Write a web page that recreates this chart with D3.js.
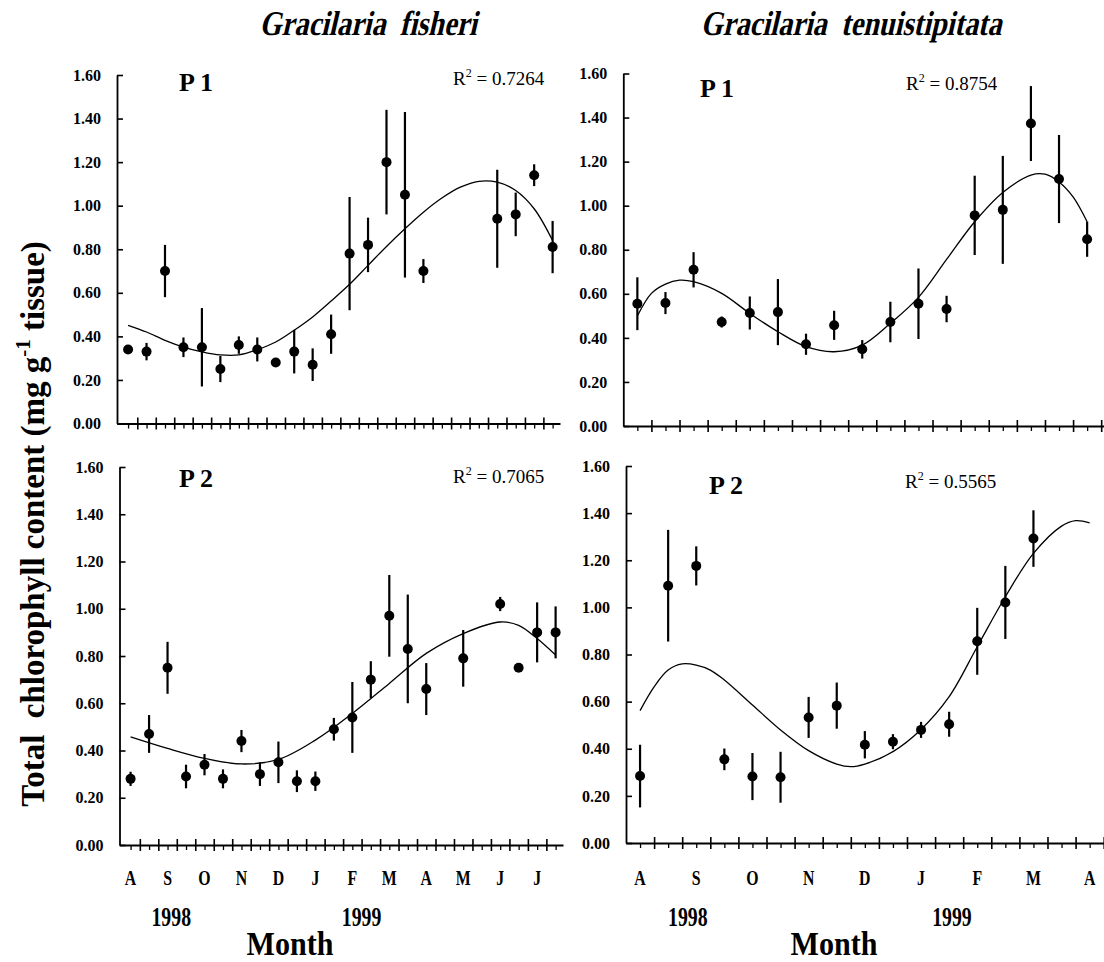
<!DOCTYPE html>
<html>
<head>
<meta charset="utf-8">
<script src="https://cdnjs.cloudflare.com/ajax/libs/d3/7.8.5/d3.min.js"></script>
<style>
  body { margin: 0; background: #fff; }
  text { font-family: "Liberation Serif", "Times New Roman", serif; fill: #000; }
</style>
</head>
<body>
<div id="chart"></div>
<script>
// ---------------- data ----------------
var monthsFisheri = ["A","S","O","N","D","J","F","M","A","M","J","J"];
var monthsTenui   = ["A","S","O","N","D","J","F","M","A"];
var yTicks = [0, 0.2, 0.4, 0.6, 0.8, 1.0, 1.2, 1.4, 1.6];

// G. fisheri, P1 (twice-monthly samples, null = no sample)
var fisP1Mean = [0.34,0.33,0.70,0.35,0.35,0.25,0.36,0.34,0.28,0.33,0.27,0.41,0.78,0.82,1.20,1.05,0.70,null,null,null,0.94,0.96,1.14,0.81];
var fisP1Err  = [0,0.04,0.12,0.045,0.18,0.06,0.04,0.055,0,0.10,0.075,0.09,0.26,0.125,0.24,0.38,0.055,null,null,null,0.225,0.10,0.05,0.12];
var fisP1FitX = [0,1,2,3,4,5,6,7,8,9,10,11,12,13,14,15,16,17,18,19,20,21,22,23];
var fisP1FitY = [0.451,0.420,0.382,0.351,0.329,0.315,0.315,0.339,0.374,0.428,0.489,0.562,0.639,0.726,0.813,0.894,0.970,1.035,1.085,1.112,1.108,1.070,0.986,0.840];

// G. fisheri, P2
var fisP2Mean = [0.28,0.47,0.75,0.29,0.34,0.28,0.44,0.30,0.35,0.27,0.27,0.49,0.54,0.70,0.97,0.83,0.66,null,0.79,null,1.02,0.75,0.90,0.90];
var fisP2Err  = [0.03,0.08,0.11,0.05,0.045,0.04,0.047,0.05,0.088,0.046,0.041,0.048,0.15,0.078,0.173,0.23,0.11,null,0.12,null,0.03,0,0.127,0.11];
var fisP2FitX = [0,2,4,6,8,10,12,14,16,18,20,21,22,23];
var fisP2FitY = [0.458,0.409,0.367,0.343,0.362,0.444,0.557,0.684,0.811,0.895,0.944,0.930,0.874,0.804];

// G. tenuistipitata, P1
var tenP1Mean = [0.555,0.558,0.709,0.472,0.513,0.517,0.371,0.457,0.348,0.472,0.555,0.531,0.956,0.981,1.373,1.121,0.848];
var tenP1Err  = [0.12,0.05,0.08,0.025,0.075,0.15,0.048,0.066,0.042,0.092,0.16,0.06,0.18,0.245,0.17,0.2,0.08];
var tenP1FitX = [0,0.5,1,1.5,2,3,4,5,6,7,8,9,10,11,12,13,14,14.5,15,15.5,16];
var tenP1FitY = [0.499,0.602,0.644,0.662,0.655,0.602,0.511,0.428,0.360,0.337,0.367,0.466,0.584,0.756,0.927,1.060,1.139,1.143,1.108,1.040,0.927];

// G. tenuistipitata, P2
var tenP2Mean = [0.284,1.092,1.176,0.355,0.282,0.279,0.533,0.583,0.417,0.430,0.480,0.504,0.856,1.021,1.292];
var tenP2Err  = [0.133,0.237,0.083,0.046,0.10,0.108,0.087,0.098,0.058,0.032,0.034,0.053,0.142,0.155,0.12];
var tenP2FitX = [0,0.5,1,1.5,2,2.5,3,4,5,6,7,7.5,8,9,10,11,12,13,14,15,15.5,16];
var tenP2FitY = [0.562,0.663,0.734,0.760,0.755,0.734,0.692,0.586,0.480,0.392,0.335,0.324,0.335,0.388,0.482,0.621,0.833,1.045,1.229,1.345,1.368,1.359];

// ---------------- layout ----------------
var width = 1104, height = 962;

var svg = d3.select('#chart')
  .append('svg')
  .attr('width', width)
  .attr('height', height);

svg.append('rect').attr('width', width).attr('height', height).attr('fill', '#fff');

var panels = [
  { mean: fisP1Mean, err: fisP1Err, fitX: fisP1FitX, fitY: fisP1FitY, name: 'P 1', r2: '0.7264',
    xr: [117, 560], dom: [-0.6, 23.4], yr: [423.5, 75], lab: [179, 91], r2pos: [453, 85] },
  { mean: fisP2Mean, err: fisP2Err, fitX: fisP2FitX, fitY: fisP2FitY, name: 'P 2', r2: '0.7065',
    xr: [119.5, 563], dom: [-0.6, 23.4], yr: [845, 467], lab: [179, 487], r2pos: [453, 483] },
  { mean: tenP1Mean, err: tenP1Err, fitX: tenP1FitX, fitY: tenP1FitY, name: 'P 1', r2: '0.8754',
    xr: [623.3, 1104], dom: [-0.5, 16.6], yr: [426, 73.5], lab: [700, 97], r2pos: [906, 90] },
  { mean: tenP2Mean, err: tenP2Err, fitX: tenP2FitX, fitY: tenP2FitY, name: 'P 2', r2: '0.5565',
    xr: [626, 1106.5], dom: [-0.5, 16.6], yr: [843, 466], lab: [709, 494], r2pos: [905, 488] }
];

panels.forEach(function(p) {
  var x = d3.scaleLinear().domain(p.dom).range(p.xr);
  var y = d3.scaleLinear().domain([0, 1.6]).range(p.yr);
  p.x = x; p.y = y;
  var g = svg.append('g');

  // y axis, ticks cross the line
  var yAxis = g.append('g')
    .attr('transform', 'translate(' + p.xr[0] + ',0)')
    .call(d3.axisLeft(y).tickValues(yTicks).tickFormat(d3.format('.2f'))
      .tickSize(6).tickSizeOuter(0).tickPadding(10));
  yAxis.selectAll('.tick line').attr('x2', 6).attr('stroke-width', 1.6);
  yAxis.select('.domain').attr('stroke-width', 1.8);
  yAxis.selectAll('.tick text')
    .attr('font-size', 16).attr('font-weight', 'bold')
    .attr('font-family', '"Liberation Serif", serif');

  // x axis: big ticks between samples, small ticks at samples
  var majors = d3.range(0.5, p.dom[1], 1);
  var minors = d3.range(0, p.dom[1], 1);
  var xAxis = g.append('g')
    .attr('transform', 'translate(0,' + p.yr[0] + ')')
    .call(d3.axisBottom(x).tickValues(majors).tickFormat('').tickSize(6).tickSizeOuter(0));
  xAxis.selectAll('.tick line').attr('y1', -6).attr('stroke-width', 1.6);
  xAxis.select('.domain').attr('stroke-width', 1.8);
  var xMinor = g.append('g')
    .attr('transform', 'translate(0,' + p.yr[0] + ')')
    .call(d3.axisBottom(x).tickValues(minors).tickFormat('').tickSize(5).tickSizeOuter(0));
  xMinor.select('.domain').remove();
  xMinor.selectAll('.tick line').attr('stroke-width', 1.3);

  // fitted curve
  var fit = p.fitX.map(function(d, i) { return [d, p.fitY[i]]; });
  g.append('path')
    .datum(fit)
    .attr('fill', 'none')
    .attr('stroke', '#000')
    .attr('stroke-width', 1.3)
    .attr('d', d3.line()
      .x(function(d) { return x(d[0]); })
      .y(function(d) { return y(d[1]); })
      .curve(d3.curveCatmullRom));

  var pts = p.mean.map(function(d, i) { return { i: i, v: d, e: p.err[i] }; })
    .filter(function(d) { return d.v !== null; });

  // error bars
  g.selectAll('line.err')
    .data(pts.filter(function(d) { return d.e > 0; }))
    .enter()
    .append('line')
    .attr('class', 'err')
    .attr('x1', function(d) { return x(d.i); })
    .attr('x2', function(d) { return x(d.i); })
    .attr('y1', function(d) { return y(d.v + d.e); })
    .attr('y2', function(d) { return y(d.v - d.e); })
    .attr('stroke', '#000')
    .attr('stroke-width', 2.2);

  // means
  g.selectAll('circle')
    .data(pts)
    .enter()
    .append('circle')
    .attr('cx', function(d) { return x(d.i); })
    .attr('cy', function(d) { return y(d.v); })
    .attr('r', 5)
    .attr('fill', '#000');

  // panel label
  g.append('text')
    .attr('x', p.lab[0]).attr('y', p.lab[1])
    .attr('font-size', 26).attr('font-weight', 'bold')
    .style('white-space', 'pre')
    .text(p.name);

  // R squared
  var r2 = g.append('text')
    .attr('x', p.r2pos[0]).attr('y', p.r2pos[1])
    .attr('font-size', 19);
  r2.append('tspan').text('R');
  r2.append('tspan').attr('dy', -8).attr('font-size', 12).text('2');
  r2.append('tspan').attr('dy', 8).text(' = ' + p.r2);
});

// month labels under bottom panels
function monthLabels(p, months) {
  svg.append('g').selectAll('text')
    .data(months)
    .enter()
    .append('text')
    .attr('transform', function(d, i) { return 'translate(' + p.x(i * 2) + ',885) scale(0.88,1.2)'; })
    .attr('text-anchor', 'middle')
    .attr('font-size', 18)
    .attr('font-weight', 'bold')
    .text(function(d) { return d; });
}
monthLabels(panels[1], monthsFisheri);
monthLabels(panels[3], monthsTenui);

// years
var years = [
  { t: '1998', x: panels[1].x(2.2) }, { t: '1999', x: panels[1].x(12.5) },
  { t: '1998', x: panels[3].x(1.7) }, { t: '1999', x: panels[3].x(11.1) }
];
svg.append('g').selectAll('text')
  .data(years)
  .enter()
  .append('text')
  .attr('transform', function(d) { return 'translate(' + d.x + ',926) scale(0.9,1.2)'; })
  .attr('text-anchor', 'middle')
  .attr('font-size', 22)
  .attr('font-weight', 'bold')
  .text(function(d) { return d.t; });

// x titles
[290, 834].forEach(function(cx) {
  svg.append('text')
    .attr('transform', 'translate(' + cx + ',955) scale(0.97,1.08)')
    .attr('text-anchor', 'middle')
    .attr('font-size', 31).attr('font-weight', 'bold')
    .text('Month');
});

// species titles (bold serif, slanted and narrowed)
[['Gracilaria  fisheri', 368], ['Gracilaria  tenuistipitata', 851]].forEach(function(d) {
  svg.append('text')
    .attr('transform', 'translate(' + d[1] + ',35) skewX(-13) scale(0.86,1.05)')
    .attr('text-anchor', 'middle')
    .attr('font-size', 33).attr('font-weight', 'bold')
    .style('white-space', 'pre')
    .text(d[0]);
});

// y title
var yt = svg.append('text')
  .attr('transform', 'translate(44,524) rotate(-90)')
  .attr('text-anchor', 'middle')
  .attr('font-size', 33).attr('font-weight', 'bold')
  .style('white-space', 'pre');
yt.append('tspan').text('Total  chlorophyll content (mg g');
yt.append('tspan').attr('dy', -14).attr('font-size', 21).text('-1');
yt.append('tspan').attr('dy', 14).text(' tissue)');
</script>
</body>
</html>
